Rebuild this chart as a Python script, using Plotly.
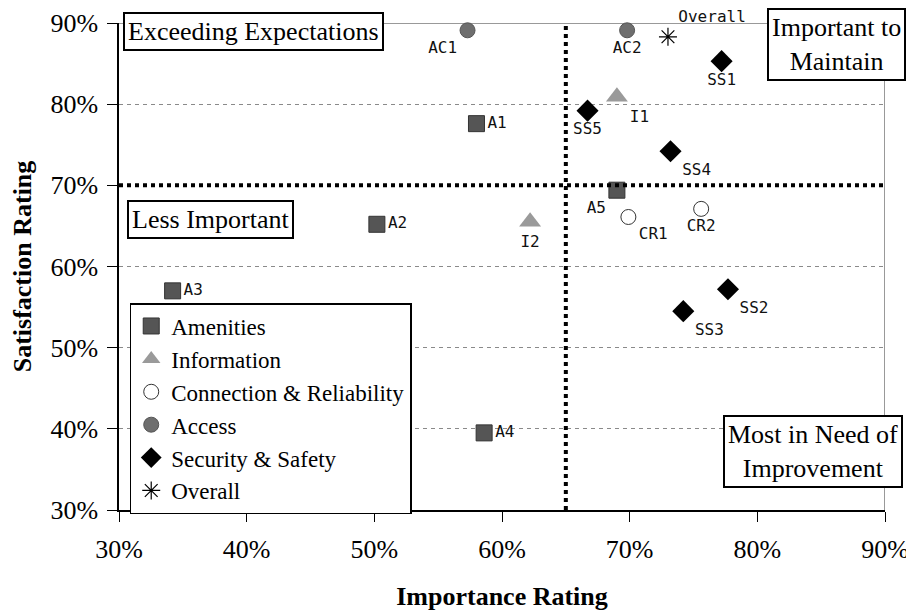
import plotly.graph_objects as go

# Importance (x) and satisfaction (y) ratings, in percent
amen_lbl = ['A1', 'A2', 'A3', 'A4', 'A5']
amen_x = [58.0, 50.2, 34.2, 58.6, 69.0]
amen_y = [77.6, 65.2, 57.0, 39.5, 69.4]

info_lbl = ['I1', 'I2']
info_x = [69.0, 62.2]
info_y = [80.9, 65.5]

conn_lbl = ['CR1', 'CR2']
conn_x = [69.9, 75.6]
conn_y = [66.1, 67.1]

acc_lbl = ['AC1', 'AC2']
acc_x = [57.3, 69.8]
acc_y = [89.1, 89.1]

sec_lbl = ['SS1', 'SS2', 'SS3', 'SS4', 'SS5']
sec_x = [77.2, 77.7, 74.2, 73.2, 66.7]
sec_y = [85.3, 57.2, 54.5, 74.2, 79.2]

all_lbl = ['Overall']
all_x = [73.0]
all_y = [88.3]

tick_vals = [30, 40, 50, 60, 70, 80, 90]
tick_text = ['%d%%' % v for v in tick_vals]
x_split = 65
y_split = 70

SERIF = 'Liberation Serif, Times New Roman, serif'
MONO = 'DejaVu Sans Mono, Liberation Mono, monospace'

fig = go.Figure()

series = [
    ('Amenities', amen_lbl, amen_x, amen_y,
     dict(symbol='square', size=16, color='#555555', line=dict(color='#333333', width=1)),
     ['middle right', 'middle right', 'middle right', 'middle right', 'bottom left']),
    ('Information', info_lbl, info_x, info_y,
     dict(symbol='triangle-up', size=19, color='#9a9a9a', line=dict(width=0)),
     ['bottom right', 'bottom center']),
    ('Connection & Reliability', conn_lbl, conn_x, conn_y,
     dict(symbol='circle', size=15, color='white', line=dict(color='#333333', width=1)),
     ['bottom right', 'bottom center']),
    ('Access', acc_lbl, acc_x, acc_y,
     dict(symbol='circle', size=15, color='#6e6e6e', line=dict(color='#555555', width=1)),
     ['bottom left', 'bottom center']),
    ('Security & Safety', sec_lbl, sec_x, sec_y,
     dict(symbol='diamond', size=17, color='black', line=dict(width=0)),
     ['bottom center', 'bottom right', 'bottom right', 'bottom right', 'bottom center']),
    ('Overall', all_lbl, all_x, all_y,
     dict(symbol='asterisk-open', size=15, color='black', line=dict(color='black', width=1.2)),
     ['top right']),
]

for name, lbl, xs, ys, mk, pos in series:
    fig.add_trace(go.Scatter(
        x=xs, y=ys, text=lbl, name=name, mode='markers+text',
        marker=mk, textposition=pos,
        textfont=dict(family=MONO, size=16, color='#111111'),
        cliponaxis=False))

# quadrant dividers
fig.add_shape(type='line', x0=x_split, x1=x_split, y0=30, y1=90,
              line=dict(color='black', width=4, dash='dot'))
fig.add_shape(type='line', x0=30, x1=90, y0=y_split, y1=y_split,
              line=dict(color='black', width=4, dash='dot'))
# frame top and right
fig.add_shape(type='line', x0=30, x1=90, y0=90, y1=90,
              line=dict(color='#777777', width=1.5), layer='below')
fig.add_shape(type='line', x0=90, x1=90, y0=30, y1=90,
              line=dict(color='#777777', width=1.5), layer='below')

boxes = [
    ('Exceeding Expectations', 0.005, 1.023, 'left', 'top'),
    ('Important to<br>Maintain', 1.027, 1.031, 'right', 'top'),
    ('Less Important', 0.010, 0.637, 'left', 'top'),
    ('Most in Need of<br>Improvement', 1.0235, 0.195, 'right', 'top'),
]
for txt, bx, by, xa, ya in boxes:
    fig.add_annotation(text=txt, xref='paper', yref='paper', x=bx, y=by,
                       xanchor=xa, yanchor=ya, showarrow=False,
                       font=dict(family=SERIF, size=26, color='black'),
                       bgcolor='white', bordercolor='black', borderwidth=2,
                       borderpad=3)

fig.update_xaxes(range=[30, 90], tickmode='array', tickvals=tick_vals, ticktext=tick_text,
                 showgrid=False, zeroline=False, automargin=False,
                 showline=True, linecolor='black', linewidth=1.5,
                 ticks='outside', ticklen=10, tickcolor='black', ticklabelstandoff=5,
                 tickfont=dict(family=SERIF, size=26, color='black'),
                 title=dict(text='<b>Importance Rating</b>', standoff=24,
                            font=dict(family=SERIF, size=26, color='black')))
fig.update_yaxes(range=[30, 90], tickmode='array', tickvals=tick_vals, ticktext=tick_text,
                 showgrid=True, gridcolor='#8a8a8a', griddash='4px,4px', gridwidth=1,
                 zeroline=False, automargin=False,
                 showline=True, linecolor='black', linewidth=1.5,
                 ticks='outside', ticklen=10, tickcolor='black', ticklabelstandoff=4,
                 tickfont=dict(family=SERIF, size=26, color='black'),
                 title=dict(text='<b>Satisfaction Rating</b>', standoff=12,
                            font=dict(family=SERIF, size=26, color='black')))

# the page puts the plot 8px in from the top-left corner, so size it to fit
fig.update_layout(
    width=906, height=606,
    margin=dict(l=111, r=29, t=15, b=104),
    plot_bgcolor='white', paper_bgcolor='white',
    showlegend=True,
    legend=dict(x=0.014, y=0.425, xanchor='left', yanchor='top',
                bgcolor='white', bordercolor='black', borderwidth=1.5,
                entrywidth=265,
                font=dict(family=SERIF, size=23, color='black')),
)

fig.write_html("out.html")
